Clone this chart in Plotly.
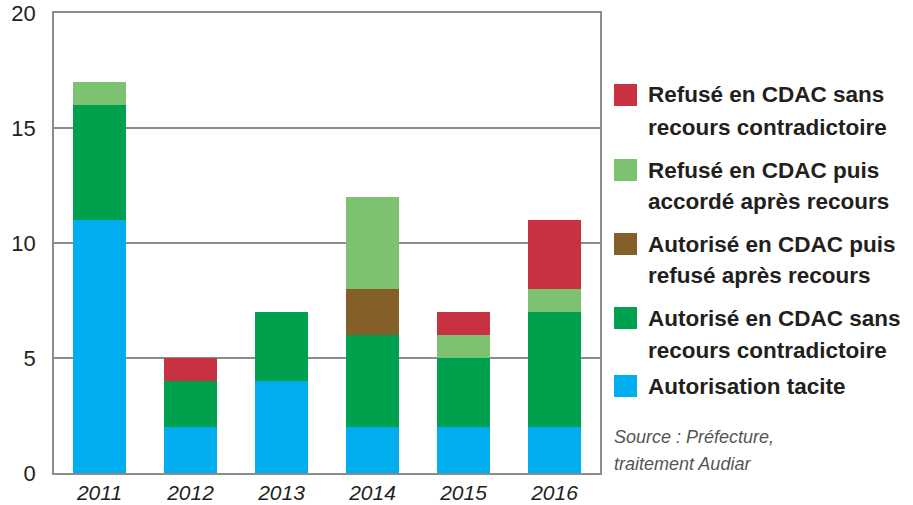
import plotly.graph_objects as go

# Données
annees = ['2011', '2012', '2013', '2014', '2015', '2016']
tacite = [11, 2, 4, 2, 2, 2]
autorise_sans_recours = [5, 2, 3, 4, 3, 5]
autorise_puis_refuse = [0, 0, 0, 2, 0, 0]
refuse_puis_accorde = [1, 0, 0, 4, 1, 1]
refuse_sans_recours = [0, 1, 0, 0, 1, 3]

series = [
    ('Autorisation tacite', tacite, '#00aeef'),
    ('Autorisé en CDAC sans<br>recours contradictoire', autorise_sans_recours, '#00a14e'),
    ('Autorisé en CDAC puis<br>refusé après recours', autorise_puis_refuse, '#845f28'),
    ('Refusé en CDAC puis<br>accordé après recours', refuse_puis_accorde, '#7cc270'),
    ('Refusé en CDAC sans<br>recours contradictoire', refuse_sans_recours, '#c83142'),
]

police = 'Liberation Sans Narrow, Arial Narrow, Liberation Sans, sans-serif'
texte = '#231f20'

fig = go.Figure()
for nom, valeurs, couleur in series:
    fig.add_trace(go.Bar(x=annees, y=valeurs, name=nom, marker_color=couleur,
                         marker_line_width=0, showlegend=False))

# Zone de tracé en pixels (la marge de la page est supprimée à l'écriture)
W, H = 913, 505
L, R, T, B = 54, 313, 13, 32
pw, ph = W - L - R, H - T - B


def px_x(x):
    return (x - L) / pw


def px_y(y):
    return (H - B - y) / ph


# Légende dessinée à la main : carrés + textes (une annotation par ligne)
legende_y = [95, 170, 244, 318, 386]
ordre = list(reversed(series))
for (nom, valeurs, couleur), yc in zip(ordre, legende_y):
    fig.add_shape(type='rect', xref='paper', yref='paper',
                  x0=px_x(614), x1=px_x(637), y0=px_y(yc + 11), y1=px_y(yc - 11),
                  fillcolor=couleur, line_width=0)
    for i, ligne in enumerate(nom.split('<br>')):
        fig.add_annotation(xref='paper', yref='paper', x=px_x(646), y=px_y(yc + 32 * i),
                           xanchor='left', yanchor='middle', align='left', showarrow=False,
                           text='<b>' + ligne + '</b>',
                           font=dict(family=police, size=22.5, color=texte))

for i, ligne in enumerate(['Source : Préfecture,', 'traitement Audiar']):
    fig.add_annotation(xref='paper', yref='paper', x=px_x(612), y=px_y(437 + 27 * i),
                       xanchor='left', yanchor='middle', align='left', showarrow=False,
                       text='<i>' + ligne + '</i>',
                       font=dict(family=police, size=18, color='#555555'))

fig.update_layout(
    width=W, height=H,
    barmode='stack', bargap=0.41,
    plot_bgcolor='white', paper_bgcolor='white',
    margin=dict(l=L, r=R, t=T, b=B, autoexpand=False),
    font=dict(family=police, color=texte),
    xaxis=dict(showline=True, linecolor='#8c8c8c', linewidth=1.5, mirror=True,
               tickfont=dict(size=21), ticks='', tickprefix='<i>', ticksuffix='</i>',
               automargin=False, ticklabelstandoff=0),
    yaxis=dict(range=[0, 20], dtick=5, showgrid=True, gridcolor='#8c8c8c', gridwidth=1.5,
               showline=True, linecolor='#8c8c8c', linewidth=1.5, mirror=True,
               tickfont=dict(size=22), ticks='', zeroline=False, automargin=False,
               ticklabelstandoff=12),
)

fig.write_html('out.html', config={'displayModeBar': False},
               post_script="document.body.style.margin = '0';")
